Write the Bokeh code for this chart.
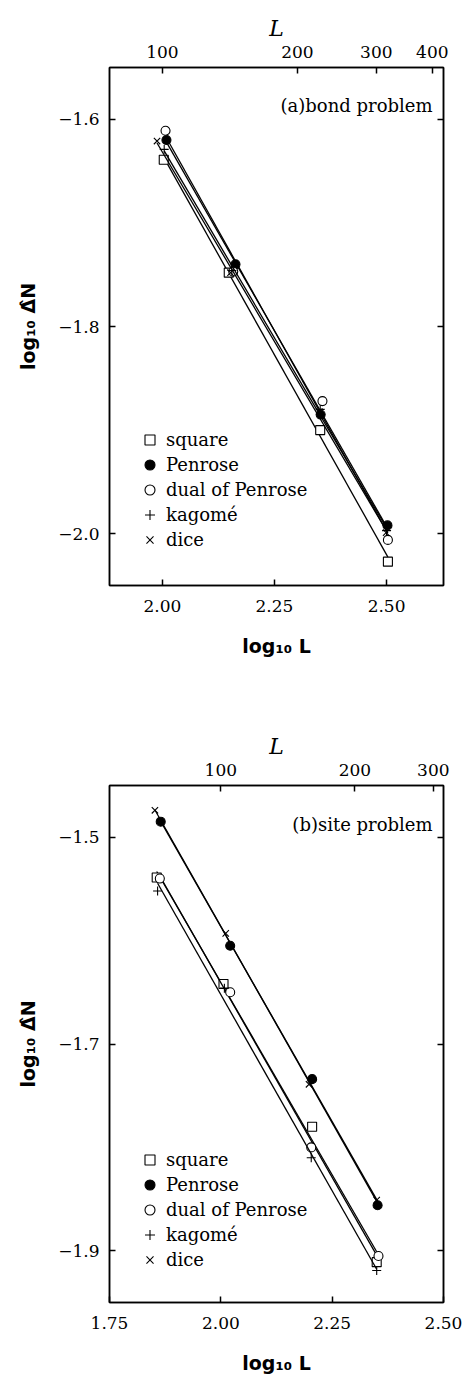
import numpy as np
from bokeh.plotting import figure
from bokeh.models import (Range1d, LinearAxis, FixedTicker, Label, Legend,
                          LegendItem, CustomJSTickFormatter)
from bokeh.layouts import column
from bokeh.embed import file_html
from bokeh.resources import INLINE

# ---------------- data: log10 L versus log10 Delta_N ----------------
series_names = ["square", "Penrose", "dual of Penrose", "kagomé", "dice"]

# (a) bond problem
bond_square_x = [2.003, 2.148, 2.352, 2.503]
bond_square_y = [-1.639, -1.748, -1.900, -2.027]
bond_penrose_x = [2.009, 2.163, 2.353, 2.502]
bond_penrose_y = [-1.620, -1.740, -1.885, -1.992]
bond_dual_x = [2.007, 2.158, 2.357, 2.503]
bond_dual_y = [-1.611, -1.747, -1.872, -2.006]
bond_kagome_x = [2.004, 2.155, 2.352, 2.500]
bond_kagome_y = [-1.629, -1.746, -1.880, -1.997]
bond_dice_x = [1.988, 2.152, 2.350, 2.499]
bond_dice_y = [-1.621, -1.748, -1.882, -1.999]

# (b) site problem
site_square_x = [1.856, 2.006, 2.205, 2.350]
site_square_y = [-1.539, -1.642, -1.780, -1.911]
site_penrose_x = [1.865, 2.021, 2.205, 2.352]
site_penrose_y = [-1.485, -1.605, -1.734, -1.856]
site_dual_x = [1.863, 2.021, 2.203, 2.354]
site_dual_y = [-1.540, -1.650, -1.800, -1.905]
site_kagome_x = [1.858, 2.008, 2.203, 2.350]
site_kagome_y = [-1.552, -1.646, -1.810, -1.919]
site_dice_x = [1.852, 2.011, 2.198, 2.350]
site_dice_y = [-1.474, -1.593, -1.739, -1.851]

# axis ticks
bond_bottom_ticks = [2.0, 2.25, 2.5]
bond_left_ticks = [-2.0, -1.8, -1.6]
bond_top_L = [100, 200, 300, 400]
site_bottom_ticks = [1.75, 2.0, 2.25, 2.5]
site_left_ticks = [-1.9, -1.7, -1.5]
site_top_L = [100, 200, 300]

x_title = "log₁₀ L"
y_title = "log₁₀ Δ̂N"
top_title = "L"

SERIF = "DejaVu Serif"
SANS = "DejaVu Sans"

MARKERS = [
    dict(marker="square", fill_color="white", line_color="black"),
    dict(marker="circle", fill_color="black", line_color="black"),
    dict(marker="circle", fill_color="white", line_color="black"),
    dict(marker="cross", fill_color=None, line_color="black"),
    dict(marker="x", fill_color=None, line_color="black"),
]


def style_axis(ax):
    ax.axis_line_color = "black"
    ax.axis_line_width = 1.5
    ax.major_tick_in = 6
    ax.major_tick_out = 0
    ax.major_tick_line_width = 1.5
    ax.minor_tick_in = 0
    ax.minor_tick_out = 0
    ax.major_label_text_font = SERIF
    ax.major_label_text_font_size = "17px"
    ax.major_label_text_color = "black"
    ax.axis_label_text_color = "black"


def make_panel(series, x_range, y_range, bottom_ticks, left_ticks, top_L,
               height, border, title, title_pos, legend_loc):
    left, right, top, bottom = border
    p = figure(width=463, height=height, x_range=Range1d(*x_range),
               y_range=Range1d(*y_range), output_backend="svg",
               toolbar_location=None, x_axis_location=None,
               y_axis_location=None, min_border_left=left,
               min_border_right=right, min_border_top=top,
               min_border_bottom=bottom)
    p.grid.visible = False
    p.outline_line_color = "black"
    p.outline_line_width = 1.5
    p.background_fill_color = "white"
    p.border_fill_color = "white"

    fmt_bottom = CustomJSTickFormatter(code="return tick.toFixed(2);")
    fmt_left = CustomJSTickFormatter(
        code="return tick.toFixed(1).replace('-', '\u2212');")
    fmt_top = CustomJSTickFormatter(
        code="return Math.round(Math.pow(10, tick)).toString();")
    fmt_blank = CustomJSTickFormatter(code="return '';")

    ax_b = LinearAxis(ticker=FixedTicker(ticks=bottom_ticks), formatter=fmt_bottom)
    style_axis(ax_b)
    ax_b.major_label_standoff = 14
    ax_b.axis_label = x_title
    ax_b.axis_label_text_font = SANS
    ax_b.axis_label_text_font_style = "bold"
    ax_b.axis_label_text_font_size = "19px"
    ax_b.axis_label_standoff = 20
    p.add_layout(ax_b, "below")

    ax_t = LinearAxis(ticker=FixedTicker(ticks=list(np.log10(top_L))),
                      formatter=fmt_top)
    style_axis(ax_t)
    ax_t.major_label_standoff = 10
    ax_t.axis_label = top_title
    ax_t.axis_label_text_font = SERIF
    ax_t.axis_label_text_font_style = "italic"
    ax_t.axis_label_text_font_size = "22px"
    ax_t.axis_label_standoff = 2
    p.add_layout(ax_t, "above")

    ax_l = LinearAxis(ticker=FixedTicker(ticks=left_ticks), formatter=fmt_left)
    style_axis(ax_l)
    ax_l.major_label_standoff = 10
    ax_l.axis_label = y_title
    ax_l.axis_label_text_font = SANS
    ax_l.axis_label_text_font_style = "bold"
    ax_l.axis_label_text_font_size = "19px"
    ax_l.axis_label_standoff = 16
    p.add_layout(ax_l, "left")

    ax_r = LinearAxis(ticker=FixedTicker(ticks=left_ticks), formatter=fmt_blank)
    style_axis(ax_r)
    ax_r.major_label_standoff = 0
    p.add_layout(ax_r, "right")

    items = []
    for (name, xs, ys), mk in zip(series, MARKERS):
        xs = np.asarray(xs)
        ys = np.asarray(ys)
        slope, icpt = np.polyfit(xs, ys, 1)
        fx = np.array([xs.min(), xs.max()])
        p.line(fx, slope * fx + icpt, line_color="black", line_width=1.3)
        r = p.scatter(xs, ys, size=9, line_width=1.1, **mk)
        items.append(LegendItem(label=name, renderers=[r]))

    legend = Legend(items=items, location=legend_loc, padding=0, margin=0,
                    spacing=0, glyph_width=25, glyph_height=25,
                    label_height=25, label_standoff=4,
                    label_text_font=SERIF, label_text_font_size="18px",
                    label_text_color="black",
                    background_fill_alpha=0, border_line_color=None)
    p.add_layout(legend, "center")

    # panel title inside the frame (frame-relative screen units)
    frame_bottom = height - bottom
    p.add_layout(Label(x=title_pos[0] - left, y=frame_bottom - title_pos[1],
                       x_units="screen", y_units="screen", text=title,
                       text_font=SERIF, text_font_size="18px",
                       text_align="right", text_baseline="alphabetic",
                       text_color="black"))
    return p


bond_series = [
    (series_names[0], bond_square_x, bond_square_y),
    (series_names[1], bond_penrose_x, bond_penrose_y),
    (series_names[2], bond_dual_x, bond_dual_y),
    (series_names[3], bond_kagome_x, bond_kagome_y),
    (series_names[4], bond_dice_x, bond_dice_y),
]
site_series = [
    (series_names[0], site_square_x, site_square_y),
    (series_names[1], site_penrose_x, site_penrose_y),
    (series_names[2], site_dual_x, site_dual_y),
    (series_names[3], site_kagome_x, site_kagome_y),
    (series_names[4], site_dice_x, site_dice_y),
]

pa = make_panel(bond_series, (1.882, 2.627), (-2.05, -1.55),
                bond_bottom_ticks, bond_left_ticks, bond_top_L,
                height=690, border=(109, 20, 67, 105),
                title="(a)bond problem", title_pos=(432, 105),
                legend_loc=(28, 33))

pb = make_panel(site_series, (1.75, 2.50), (-1.95, -1.45),
                site_bottom_ticks, site_left_ticks, site_top_L,
                height=693, border=(109, 20, 95, 81),
                title="(b)site problem", title_pos=(432, 134),
                legend_loc=(28, 30))

layout = column(pa, pb, spacing=0)
open("out.html", "w").write(file_html(layout, INLINE))
